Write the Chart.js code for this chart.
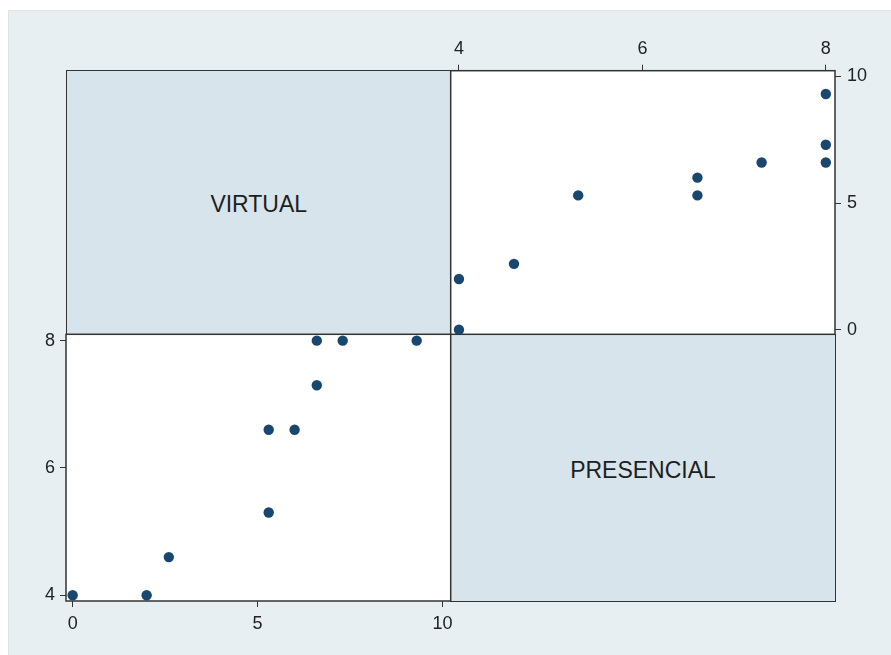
<!DOCTYPE html>
<html>
<head>
<meta charset="utf-8">
<script src="https://cdn.jsdelivr.net/npm/chart.js@4.4.1/dist/chart.umd.min.js"></script>
<style>
  body { margin: 0; background: #fff; width: 891px; height: 655px; overflow: hidden; font-family: "Liberation Sans", Arial, sans-serif; }
  #panel { position: absolute; left: 8px; top: 10px; width: 883px; height: 645px; background: #e7eff2; border-top: 1px solid #dde4e7; border-left: 1px solid #dde4e7; }
  .diag { position: absolute; background: #d7e4eb; border: 1.5px solid #333; box-sizing: border-box; display: flex; align-items: center; justify-content: center; font-size: 23px; color: #1e1e1e; padding-top: 4px; }
  canvas { position: absolute; }
</style>
</head>
<body>
<div id="panel"></div>
<div class="diag" id="cellV" style="left:66px; top:70px; width:385.5px; height:265px;"></div>
<div class="diag" id="cellP" style="left:450px; top:334px; width:386px; height:268px;"></div>
<canvas id="chartLow" width="470" height="335" style="left:0px; top:320px;"></canvas>
<canvas id="chartHigh" width="451" height="325" style="left:440px; top:20px;"></canvas>
<script>
"use strict";

// variable names shown on the diagonal
const varLabels = ["VIRTUAL", "PRESENCIAL"];

// one value per observation
const virtual = [9.3, 7.3, 6.6, 6.6, 6.0, 5.3, 5.3, 2.6, 2.0, 0.0];
const presencial = [8.0, 8.0, 8.0, 7.3, 6.6, 6.6, 5.3, 4.6, 4.0, 4.0];

// axis ticks and ranges
const virtualTicks = [0, 5, 10];
const presencialTicks = [4, 6, 8];
const virtualRange = [-0.18, 10.22];
const presencialRange = [3.91, 8.1];

const navy = "#1a476f";
const lineCol = "#333";
const tickFont = { family: "'Liberation Sans', Arial, sans-serif", size: 18 };

document.getElementById("cellV").textContent = varLabels[0];
document.getElementById("cellP").textContent = varLabels[1];

// white plot area and frame round each off-diagonal cell
const cellFrame = {
    id: "cellFrame",
    beforeDraw(chart) {
        const a = chart.chartArea;
        const ctx = chart.ctx;
        ctx.save();
        ctx.fillStyle = "#fff";
        ctx.fillRect(a.left, a.top, a.right - a.left, a.bottom - a.top);
        ctx.restore();
    },
    beforeDatasetsDraw(chart) {
        const a = chart.chartArea;
        const ctx = chart.ctx;
        ctx.save();
        ctx.strokeStyle = lineCol;
        ctx.lineWidth = 1.5;
        ctx.strokeRect(a.left, a.top, a.right - a.left, a.bottom - a.top);
        ctx.restore();
    }
};

function makeAxis(position, range, tickVals, size, pad) {
    return {
        type: "linear",
        position: position,
        min: range[0],
        max: range[1],
        afterBuildTicks: scale => { scale.ticks = tickVals.map(v => ({ value: v })); },
        afterFit: scale => {
            if (position === "left" || position === "right") scale.width = size;
            else scale.height = size;
            // let the layout padding alone decide where the cell sits
            scale.paddingTop = 0;
            scale.paddingBottom = 0;
            scale.paddingLeft = 0;
            scale.paddingRight = 0;
        },
        grid: { display: true, drawOnChartArea: false, drawTicks: true, tickLength: 6, color: lineCol, lineWidth: 1 },
        border: { display: false },
        ticks: { font: tickFont, color: "#222", padding: pad, maxRotation: 0, autoSkip: false }
    };
}

function scatterChart(id, xs, ys, scales, padding) {
    new Chart(document.getElementById(id), {
        type: "scatter",
        data: {
            datasets: [{
                data: xs.map((v, i) => ({ x: v, y: ys[i] })),
                backgroundColor: navy,
                borderColor: navy,
                pointRadius: 5.2,
                pointBorderWidth: 0
            }]
        },
        options: {
            responsive: false,
            animation: false,
            devicePixelRatio: 1,
            layout: { padding: padding },
            plugins: { legend: { display: false }, tooltip: { enabled: false } },
            scales: scales
        },
        plugins: [cellFrame]
    });
}

// lower left: PRESENCIAL against VIRTUAL
scatterChart("chartLow", virtual, presencial, {
    x: makeAxis("bottom", virtualRange, virtualTicks, 54, 6),
    y: makeAxis("left", presencialRange, presencialTicks, 66, 5)
}, { top: 14.3, right: 19.3, left: 0, bottom: 0 });

// upper right: VIRTUAL against PRESENCIAL
scatterChart("chartHigh", presencial, virtual, {
    x: makeAxis("top", presencialRange, presencialTicks, 50.7, 5),
    y: makeAxis("right", virtualRange, virtualTicks, 56, 6)
}, { top: 0, right: 0, left: 10.7, bottom: 10.7 });
</script>
</body>
</html>
